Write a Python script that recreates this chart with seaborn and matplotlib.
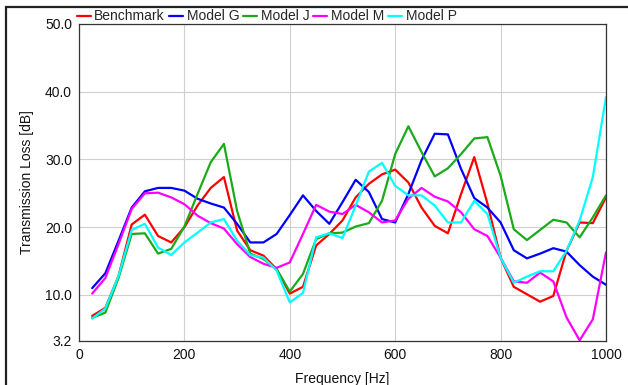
import numpy as np
import pandas as pd
import matplotlib
matplotlib.use("Agg")
import matplotlib.pyplot as plt
from matplotlib.patches import Rectangle
import seaborn as sns

# Frequency grid (Hz)
freq = list(range(25, 1001, 25))

benchmark = [6.9, 8.1, 12.8, 20.4, 21.85, 18.7, 17.75, 20.0, 23.2, 25.8,
             27.4, 19.5, 16.6, 15.8, 13.8, 10.2, 11.2, 17.3, 19.0, 21.0,
             24.4, 26.4, 27.8, 28.5, 26.6, 22.9, 20.2, 19.1, 24.9, 30.35,
             23.5, 15.5, 11.2, 10.1, 9.0, 9.85, 16.5, 20.7, 20.6, 24.4]
model_g = [11.0, 13.2, 18.0, 22.9, 25.3, 25.8, 25.8, 25.4, 24.2, 23.5,
           22.9, 20.5, 17.75, 17.75, 19.0, 21.8, 24.7, 22.4, 20.5, 23.7,
           27.0, 25.2, 21.2, 20.7, 24.9, 29.9, 33.8, 33.7, 28.6, 24.3,
           22.9, 20.7, 16.6, 15.4, 16.1, 16.9, 16.4, 14.4, 12.7, 11.5]
model_j = [6.6, 7.4, 12.5, 19.0, 19.1, 16.1, 16.8, 20.1, 24.9, 29.6,
           32.3, 22.4, 16.1, 15.3, 13.8, 10.5, 13.1, 18.25, 19.1, 19.2,
           20.1, 20.6, 23.9, 30.8, 34.9, 31.1, 27.5, 28.7, 30.8, 33.1,
           33.3, 27.6, 19.7, 18.1, 19.6, 21.1, 20.7, 18.5, 21.45, 24.7]
model_m = [10.2, 12.5, 17.5, 22.7, 25.0, 25.1, 24.4, 23.4, 21.7, 20.6,
           19.8, 17.5, 15.6, 14.6, 14.0, 14.8, 19.0, 23.3, 22.3, 21.95,
           23.3, 22.2, 20.7, 21.0, 24.2, 25.8, 24.5, 23.8, 22.2, 19.7,
           18.7, 15.5, 12.0, 11.8, 13.3, 12.0, 6.7, 3.3, 6.4, 16.3]
model_p = [6.5, 8.0, 12.8, 19.6, 20.5, 17.0, 15.9, 17.75, 19.2, 20.7,
           21.2, 18.0, 15.9, 15.5, 13.6, 8.9, 10.3, 18.5, 19.1, 18.4,
           23.2, 28.2, 29.5, 26.1, 24.7, 24.7, 23.2, 20.7, 20.7, 23.9,
           21.95, 15.5, 11.8, 12.7, 13.5, 13.5, 16.5, 21.0, 27.4, 39.2]

series_names = ["Benchmark", "Model G", "Model J", "Model M", "Model P"]
series_values = [benchmark, model_g, model_j, model_m, model_p]
colors = ["#ff0000", "#0000ff", "#1aaa1a", "#ff00ff", "#00ffff"]

x_ticks = [0, 200, 400, 600, 800, 1000]
y_ticks = [3.2, 10.0, 20.0, 30.0, 40.0, 50.0]
y_tick_labels = ["3.2", "10.0", "20.0", "30.0", "40.0", "50.0"]

df = pd.DataFrame({
    "Frequency": freq * len(series_names),
    "TL": sum(series_values, []),
    "Series": sum([[n] * len(freq) for n in series_names], []),
})

sns.set_theme(style="white")
plt.rcParams["font.family"] = ["Liberation Sans", "DejaVu Sans"]
plt.rcParams["font.size"] = 10

fig = plt.figure(figsize=(6.28, 3.85), dpi=100)
ax = fig.add_axes([79 / 628, 1 - 341 / 385, (606 - 79) / 628, (341 - 24) / 385])

sns.lineplot(data=df, x="Frequency", y="TL", hue="Series",
             hue_order=series_names, palette=colors, linewidth=1.6,
             ax=ax, legend=True)

handles, labels = ax.get_legend_handles_labels()
ax.get_legend().remove()

ax.set_xlim(0, 1000)
ax.set_ylim(3.2, 50)
ax.set_xticks(x_ticks)
ax.set_xticklabels([str(t) for t in x_ticks])
ax.set_yticks(y_ticks)
ax.set_yticklabels(y_tick_labels)
ax.tick_params(axis="both", length=0, pad=5, labelsize=10, colors="#111111")
ax.grid(True, color="#d0d0d0", linewidth=0.8)
ax.set_axisbelow(True)
for sp in ax.spines.values():
    sp.set_color("#333333")
    sp.set_linewidth(0.9)

ax.set_xlabel("Frequency [Hz]", fontsize=10, color="#111111", labelpad=7)
ax.set_ylabel("Transmission Loss [dB]", fontsize=10, color="#111111", labelpad=8)

fig.legend(handles, labels, loc="center left",
           bbox_to_anchor=(77 / 628, 1 - 16.5 / 385), ncol=5, frameon=False,
           borderaxespad=0, borderpad=0, handlelength=1.0, handletextpad=0.25,
           columnspacing=0.3, fontsize=10)

# Outer panel frame (open to the right and bottom)
fig.patches.append(Rectangle((6 / 628, -0.2), 2.0, 1.2 - 7 / 385 + 0.0,
                             transform=fig.transFigure, fill=False,
                             edgecolor="#222222", linewidth=1.6))

fig.savefig("out.png", dpi=100)
